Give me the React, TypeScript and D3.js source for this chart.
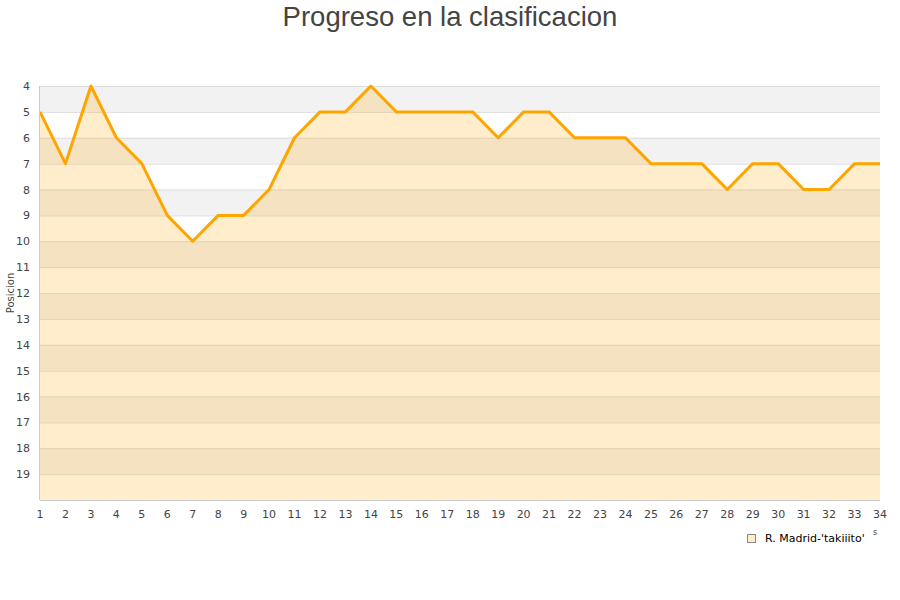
import React, { useEffect, useRef } from "react";
import * as d3 from "d3";

const jornadas = d3.range(1, 35);
const posiciones = [5, 7, 4, 6, 7, 9, 10, 9, 9, 8, 6, 5, 5, 4, 5, 5, 5, 5, 6, 5, 5, 6, 6, 6, 7, 7, 7, 8, 7, 7, 8, 8, 7, 7];
const yTicks = d3.range(4, 20);
const titulo = "Progreso en la clasificacion";
const equipo = "R. Madrid-'takiiito'";

const App: React.FC = () => {
  const svgRef = useRef<SVGSVGElement | null>(null);

  useEffect(() => {
    if (!svgRef.current) return;
    const width = 900;
    const height = 600;
    const margin = { top: 86, right: 20, bottom: 100, left: 40 };

    d3.select(svgRef.current).selectAll("*").remove();
    const svg = d3.select(svgRef.current).attr("width", width).attr("height", height);

    const x = d3.scaleLinear().domain([1, 34]).range([margin.left, width - margin.right]);
    const y = d3.scaleLinear().domain([4, 20]).range([margin.top, height - margin.bottom]);

    // alternating bands
    svg
      .selectAll(".band")
      .data(d3.range(4, 20))
      .enter()
      .append("rect")
      .attr("x", x(1))
      .attr("width", x(34) - x(1))
      .attr("y", (d) => y(d))
      .attr("height", (d) => y(d + 1) - y(d))
      .attr("fill", (d) => ((d - 4) % 2 === 0 ? "#f2f2f2" : "#ffffff"));

    // gridlines
    svg
      .selectAll(".grid")
      .data(d3.range(4, 20))
      .enter()
      .append("line")
      .attr("x1", x(1))
      .attr("x2", x(34))
      .attr("y1", (d) => y(d) + 0.5)
      .attr("y2", (d) => y(d) + 0.5)
      .attr("stroke", "#dddddd")
      .attr("stroke-width", 1);

    const pts = jornadas.map((j, i) => [j, posiciones[i]] as [number, number]);

    const area = d3
      .area<[number, number]>()
      .x((d) => x(d[0]))
      .y0(y(20))
      .y1((d) => y(d[1]));

    svg.append("path").datum(pts).attr("d", area).attr("fill", "#ffa500").attr("fill-opacity", 0.2);

    const line = d3
      .line<[number, number]>()
      .x((d) => x(d[0]))
      .y((d) => y(d[1]));

    svg
      .append("path")
      .datum(pts)
      .attr("d", line)
      .attr("fill", "none")
      .attr("stroke", "#ffa500")
      .attr("stroke-width", 3)
      .attr("stroke-linejoin", "round");

    // axis lines
    svg
      .append("line")
      .attr("x1", x(1) - 0.5)
      .attr("x2", x(1) - 0.5)
      .attr("y1", y(4))
      .attr("y2", y(20))
      .attr("stroke", "#cccccc");
    svg
      .append("line")
      .attr("x1", x(1))
      .attr("x2", x(34))
      .attr("y1", y(20) + 0.5)
      .attr("y2", y(20) + 0.5)
      .attr("stroke", "#cccccc");

    // y tick labels
    svg
      .selectAll(".ytick")
      .data(yTicks)
      .enter()
      .append("text")
      .attr("x", 30)
      .attr("y", (d) => y(d) + 4)
      .attr("text-anchor", "end")
      .attr("font-family", "DejaVu Sans")
      .attr("font-size", 11)
      .attr("fill", "#444")
      .text((d) => d);

    // x tick labels
    svg
      .selectAll(".xtick")
      .data(jornadas)
      .enter()
      .append("text")
      .attr("x", (d) => x(d))
      .attr("y", y(20) + 18)
      .attr("text-anchor", "middle")
      .attr("font-family", "DejaVu Sans")
      .attr("font-size", 11)
      .attr("fill", "#444")
      .text((d) => d);

    // y axis title
    svg
      .append("text")
      .attr("transform", `translate(14, ${(y(4) + y(20)) / 2}) rotate(-90)`)
      .attr("text-anchor", "middle")
      .attr("font-family", "DejaVu Sans")
      .attr("font-size", 10)
      .attr("fill", "#444")
      .text("Posicion");

    // title
    svg
      .append("text")
      .attr("x", width / 2)
      .attr("y", 26)
      .attr("text-anchor", "middle")
      .attr("font-family", "Liberation Sans")
      .attr("font-size", 27.5)
      .attr("fill", "#444")
      .text(titulo);

    // legend
    svg
      .append("rect")
      .attr("x", 747.5)
      .attr("y", 534.5)
      .attr("width", 8)
      .attr("height", 8)
      .attr("fill", "#ffecc9")
      .attr("stroke", "#888");
    svg
      .append("text")
      .attr("x", 765)
      .attr("y", 542)
      .attr("font-family", "DejaVu Sans")
      .attr("font-size", 11)
      .attr("fill", "#000")
      .text(equipo);
    svg
      .append("text")
      .attr("x", 873)
      .attr("y", 535)
      .attr("font-family", "DejaVu Sans")
      .attr("font-size", 8)
      .attr("fill", "#444")
      .text("s");
  }, []);

  return (
    <div style={{ position: "absolute", left: 0, top: 0 }}>
      <svg ref={svgRef} style={{ display: "block" }}></svg>
    </div>
  );
};

export default App;
